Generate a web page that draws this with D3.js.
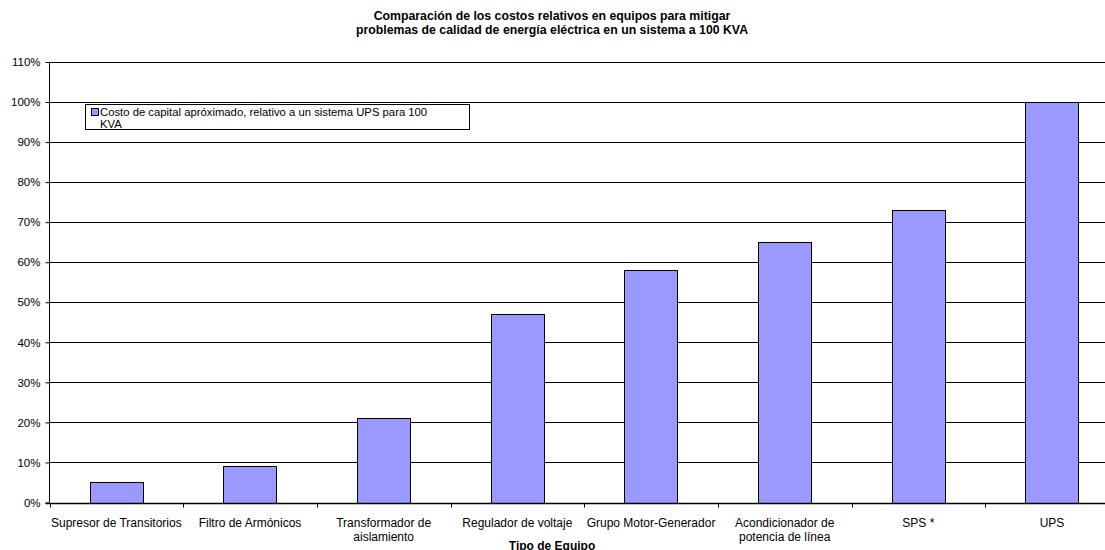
<!DOCTYPE html>
<html><head><meta charset="utf-8">
<script src="https://cdn.jsdelivr.net/npm/d3@7"></script>
<style>body{margin:0;background:#fff;} svg{display:block;font-family:"Liberation Sans",Arial,sans-serif;}</style>
</head><body>
<svg id="c" width="1105" height="550"></svg>
<script>
const categories = ["Supresor de Transitorios","Filtro de Armónicos","Transformador de|aislamiento","Regulador de voltaje","Grupo Motor-Generador","Acondicionador de|potencia de línea","SPS *","UPS"];
const values = [5, 9, 21, 47, 58, 65, 73, 100];
const yTicks = [0,10,20,30,40,50,60,70,80,90,100,110];
const titleLines = ["Comparación de los costos relativos en equipos para mitigar","problemas de calidad de energía eléctrica en un sistema a 100 KVA"];
const seriesName = ["Costo de capital apróximado, relativo a un sistema UPS para 100","KVA"];
const xTitle = "Tipo de Equipo";

(function(){
const svg = d3.select("#c");
const pLeft = 49.5, pTop = 62, pBottom = 502.5, pRight = 49.5 + 8*133.67;
const xb = d3.scaleBand().domain(categories).range([pLeft, pRight]);
const y = d3.scaleLinear().domain([0,110]).range([pBottom, pTop]);

// gridlines
svg.append("g").selectAll("line").data(yTicks.filter(d=>d>0)).join("line")
  .attr("x1", pLeft).attr("x2", pRight).attr("y1", d=>Math.round(y(d))+0.5).attr("y2", d=>Math.round(y(d))+0.5)
  .attr("stroke", "#000").attr("stroke-width", 1);

// bars
svg.append("g").selectAll("rect").data(values).join("rect")
  .attr("x", (d,i)=>Math.round(xb(categories[i]) + 40)+0.5)
  .attr("width", 53)
  .attr("y", d=>Math.round(y(d))+0.5)
  .attr("height", d=>Math.round(y(0)) - Math.round(y(d)))
  .attr("fill", "#9999FF").attr("stroke", "#000").attr("stroke-width", 1);

// y axis
const ya = svg.append("g").attr("transform", `translate(${pLeft},0)`)
  .call(d3.axisLeft(y).tickValues(yTicks).tickFormat(d=>d+"%").tickSize(4).tickPadding(5));
ya.select(".domain").attr("stroke","#000").attr("d", `M0,${pTop}V${pBottom}`);
ya.selectAll(".tick line").attr("stroke","#000");
ya.selectAll("text").attr("font-size", 11.5).attr("fill","#000").attr("font-family","Liberation Sans, Arial, sans-serif");

// x axis
const xa = svg.append("g").attr("transform", `translate(0,${Math.round(pBottom)+0.5})`);
xa.append("line").attr("x1", pLeft-4).attr("x2", pRight).attr("stroke","#000").attr("stroke-width",1.5);
xa.selectAll("line.t").data(d3.range(9)).join("line").attr("class","t")
  .attr("x1", i=>Math.round(pLeft + i*xb.bandwidth())+0.5).attr("x2", i=>Math.round(pLeft + i*xb.bandwidth())+0.5)
  .attr("y1",0).attr("y2",4).attr("stroke","#000");
xa.selectAll("text").data(categories).join("text")
  .attr("text-anchor","middle").attr("font-size",12).attr("fill","#000")
  .attr("transform", d=>`translate(${xb(d)+xb.bandwidth()/2},23)`)
  .each(function(d){
    const parts = d.split("|");
    d3.select(this).selectAll("tspan").data(parts).join("tspan")
      .attr("x",0).attr("dy",(p,i)=>i===0?0:14).text(p=>p);
  });

// title
svg.append("text").attr("text-anchor","middle").attr("font-size",12.3).attr("font-weight","bold")
  .selectAll("tspan").data(titleLines).join("tspan")
  .attr("x", 552).attr("y",(d,i)=>20+i*14).text(d=>d);

// x title
svg.append("text").attr("x", 552).attr("y", 550).attr("text-anchor","middle")
  .attr("font-size",12).attr("font-weight","bold").text(xTitle);

// legend
const lg = svg.append("g");
lg.append("rect").attr("x",85.5).attr("y",104.5).attr("width",384).attr("height",25)
  .attr("fill","#fff").attr("stroke","#000").attr("stroke-width",1);
lg.append("rect").attr("x",91.5).attr("y",108.5).attr("width",7).attr("height",7)
  .attr("fill","#9999FF").attr("stroke","#000");
lg.append("text").attr("font-size",11.3).attr("fill","#000")
  .selectAll("tspan").data(seriesName).join("tspan")
  .attr("x",100).attr("y",(d,i)=>116+i*11.5).text(d=>d);
})();
</script>
</body></html>
